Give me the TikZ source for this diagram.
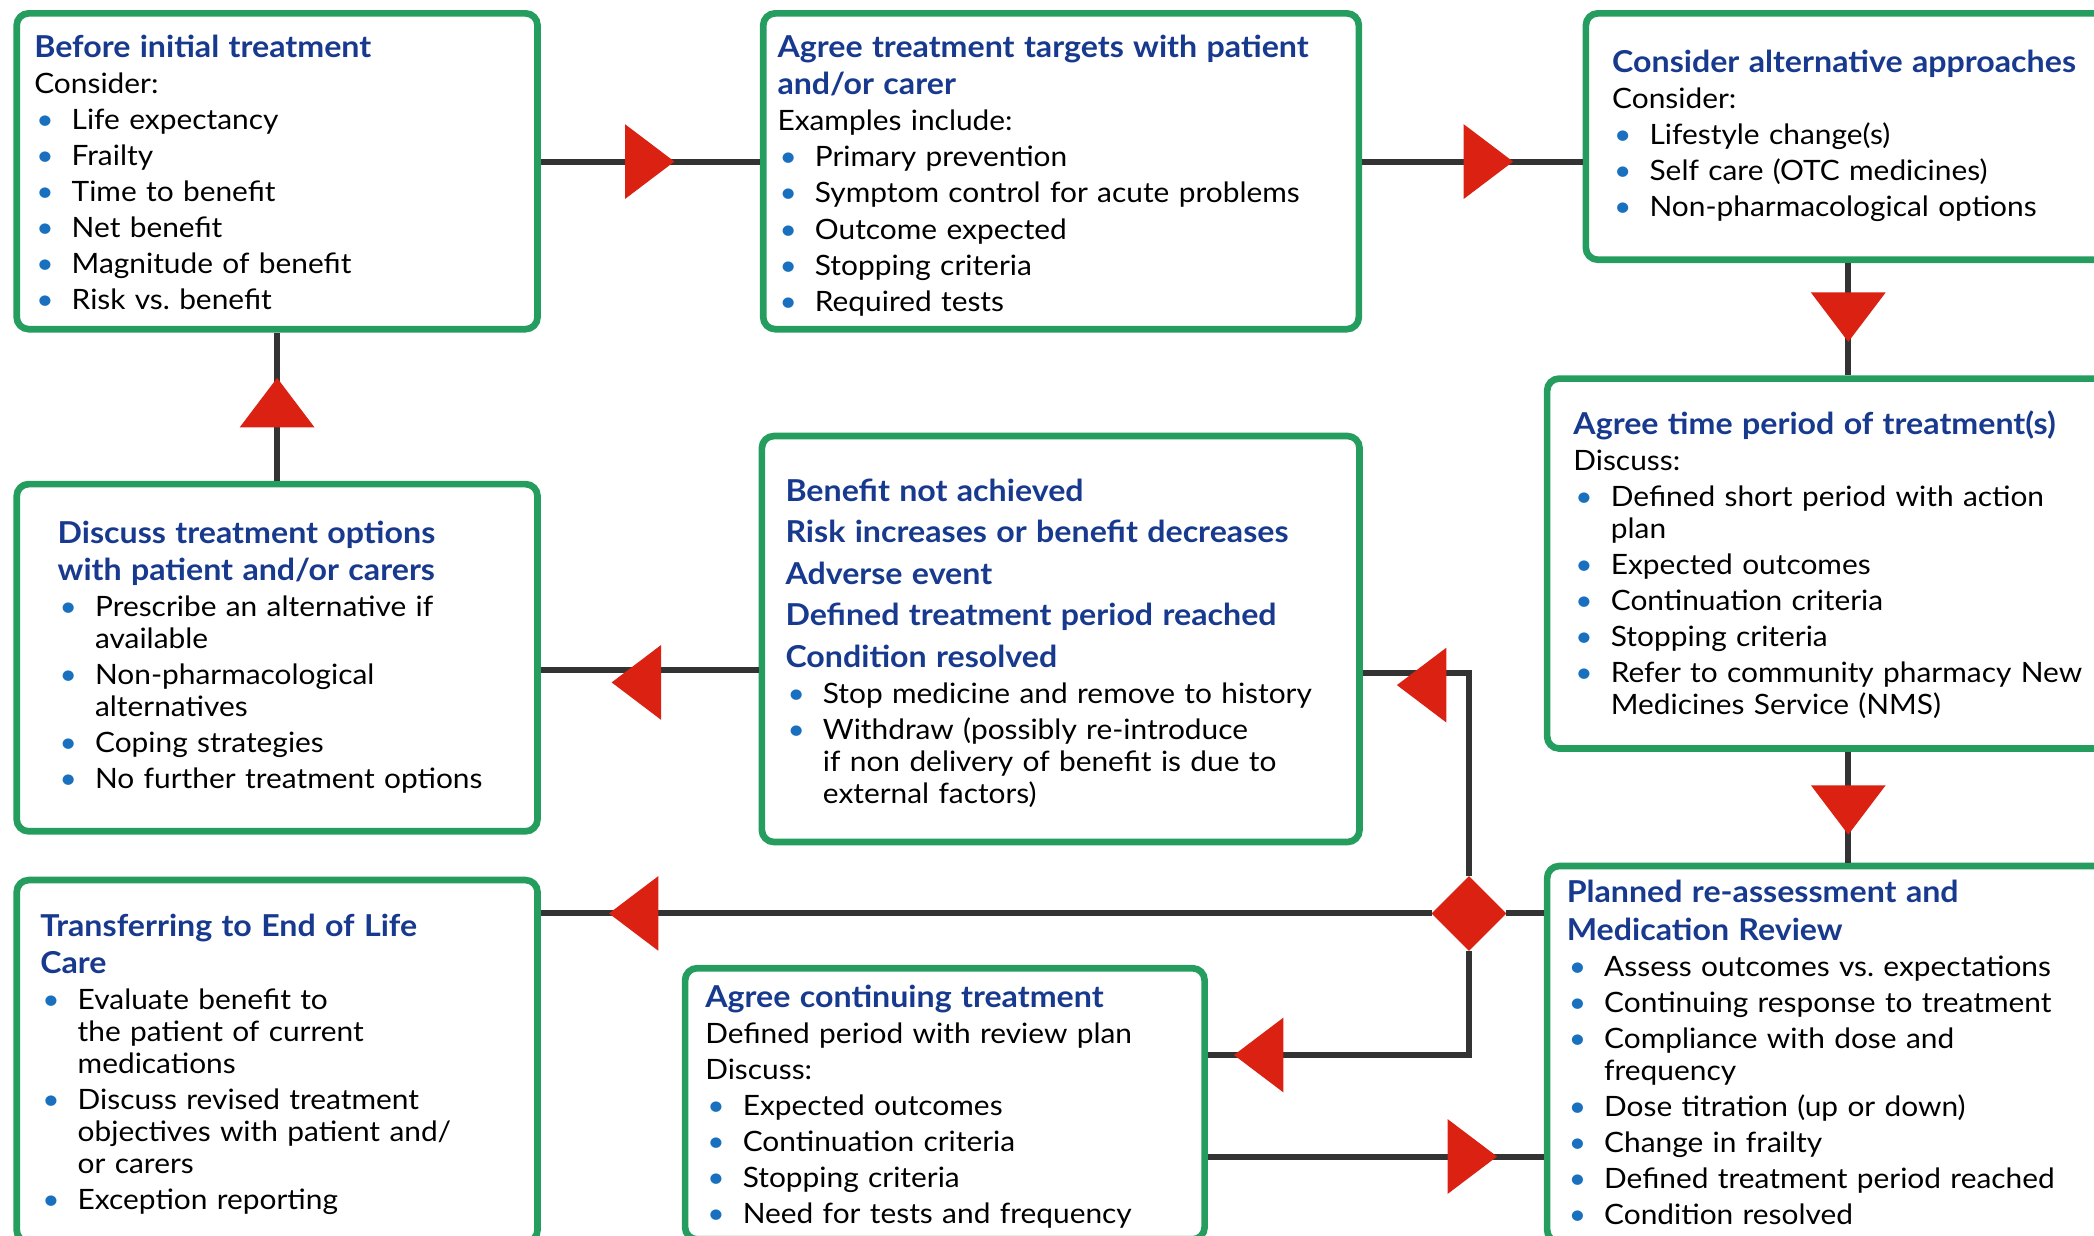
\documentclass[tikz,border=0pt]{standalone}
\usepackage{fontspec}
\setmainfont{Lato}[FakeStretch=1.065]
\usetikzlibrary{shapes.geometric, decorations.markings}

\definecolor{cardgreen}{RGB}{37,157,94}
\definecolor{titleblue}{RGB}{24,58,142}
\definecolor{dotblue}{RGB}{24,112,190}
\definecolor{arrowred}{RGB}{218,33,18}
\definecolor{linegray}{RGB}{51,51,51}

% title lines and bullet items
\newcommand{\ttl}{\fontsize{22.6}{28}\selectfont\bfseries\color{titleblue}}
\newcommand{\bul}[1]{\par\hangindent=28pt\hangafter=1\noindent\makebox[28pt][l]{\hspace{1.5pt}\textcolor{dotblue}{\textbullet}}#1\par}

\tikzset{
  card/.style={draw=cardgreen, line width=5pt, rounded corners=9pt, fill=white,
    anchor=north west, inner sep=0pt, outer sep=2.5pt},
  txt/.style={anchor=base west, inner sep=0pt, align=left, text width=520pt,
    font=\fontsize{21}{24}\selectfont, execute at begin node={\setlength{\parskip}{3pt}}},
  link/.style={draw=linegray, line width=4.5pt},
  tipat/.style={postaction={decorate, decoration={markings,
    mark=at position #1 with {\fill[arrowred] (-37,-28) -- (0,0) -- (-37,28) -- cycle;}}}},
  tipoff/.style={postaction={decorate, decoration={markings,
    mark=at position #1 with {\fill[arrowred] (-37,-37) -- (0,-9) -- (-37,19) -- cycle;}}}},
  decision/.style={diamond, fill=arrowred, minimum width=56pt, minimum height=56pt,
    inner sep=0pt, outer sep=0pt}
}

\begin{document}
\begin{tikzpicture}[x=1pt, y=-1pt]
    \useasboundingbox (0,0) rectangle (1568,925);
    \clip (0,0) rectangle (1568,925);

    % Boxes
    \node[card, minimum width=390pt, minimum height=236.5pt] (before) at (10,7.5) {};
    \node[card, minimum width=446pt, minimum height=236.5pt] (targets) at (569,7.5) {};
    \node[card, minimum width=393pt, minimum height=184.5pt] (alt) at (1185,7.5) {};
    \node[card, minimum width=451pt, minimum height=277pt] (period) at (1156,281) {};
    \node[card, minimum width=451pt, minimum height=281.5pt] (review) at (1156,646) {};
    \node[card, minimum width=390pt, minimum height=260pt] (options) at (10,360) {};
    \node[card, minimum width=447.5pt, minimum height=304pt] (cease) at (568,324) {};
    \node[card, minimum width=389pt, minimum height=203pt] (cont) at (510.5,722.5) {};
    \node[card, minimum width=390pt, minimum height=271pt] (eol) at (10,656.5) {};
    \node[decision] (dec) at (1100,684) {};

    % Box texts
    \node[txt] (before-txt) at ([shift={(15.5,35.5)}]before.north west) {%
        {\ttl Before initial treatment\par}
        Consider:
        \bul{Life expectancy}
        \bul{Frailty}
        \bul{Time to benefit}
        \bul{Net benefit}
        \bul{Magnitude of benefit}
        \bul{Risk vs.\ benefit}};
    \node[txt] (targets-txt) at ([shift={(13,35.5)}]targets.north west) {%
        {\ttl Agree treatment targets with patient\newline and/or carer\par}
        Examples include:
        \bul{Primary prevention}
        \bul{Symptom control for acute problems}
        \bul{Outcome expected}
        \bul{Stopping criteria}
        \bul{Required tests}};
    \node[txt] (alt-txt) at ([shift={(22,46.5)}]alt.north west) {%
        {\ttl Consider alternative approaches\par}
        Consider:
        \bul{Lifestyle change(s)}
        \bul{Self care (OTC medicines)}
        \bul{Non-pharmacological options}};
    \node[txt] (period-txt) at ([shift={(22,44)}]period.north west) {%
        {\ttl Agree time period of treatment(s)\par}
        Discuss:
        \bul{Defined short period with action\newline plan}
        \bul{Expected outcomes}
        \bul{Continuation criteria}
        \bul{Stopping criteria}
        \bul{Refer to community pharmacy New\newline Medicines Service (NMS)}};
    \node[txt] (review-txt) at ([shift={(17,30)}]review.north west) {%
        {\ttl Planned re-assessment and\newline Medication Review\par}
        \bul{Assess outcomes vs.\ expectations}
        \bul{Continuing response to treatment}
        \bul{Compliance with dose and\newline frequency}
        \bul{Dose titration (up or down)}
        \bul{Change in frailty}
        \bul{Defined treatment period reached}
        \bul{Condition resolved}};
    \node[txt] (options-txt) at ([shift={(33,46.7)}]options.north west) {%
        {\ttl Discuss treatment options\newline with patient and/or carers\par}
        \bul{Prescribe an alternative if\newline available}
        \bul{Non-pharmacological\newline alternatives}
        \bul{Coping strategies}
        \bul{No further treatment options}};
    \node[txt] (cease-txt) at ([shift={(20,51.6)}]cease.north west) {%
        {\ttl Benefit not achieved\par
        Risk increases or benefit decreases\par
        Adverse event\par
        Defined treatment period reached\par
        Condition resolved\par}
        \bul{Stop medicine and remove to history}
        \bul{Withdraw (possibly re-introduce\newline if non delivery of benefit is due to\newline external factors)}};
    \node[txt] (cont-txt) at ([shift={(17.5,31.8)}]cont.north west) {%
        {\ttl Agree continuing treatment\par}
        Defined period with review plan\par
        Discuss:
        \bul{Expected outcomes}
        \bul{Continuation criteria}
        \bul{Stopping criteria}
        \bul{Need for tests and frequency}};
    \node[txt] (eol-txt) at ([shift={(20,44.4)}]eol.north west) {%
        {\ttl Transferring to End of Life\newline Care\par}
        \bul{Evaluate benefit to\newline the patient of current\newline medications}
        \bul{Discuss revised treatment\newline objectives with patient and/\newline or carers}
        \bul{Exception reporting}};

    % Connectors
    \draw[link, tipat=100pt] (before.east |- 0,121) -- (targets.west |- 0,121);
    \draw[link, tipat=113pt] (targets.east |- 0,121) -- (alt.west |- 0,121);
    \draw[link, tipat=59pt] (alt.south) -- (period.north);
    \draw[link, tipat=62pt] (period.south) -- (review.north);
    \draw[link, tipat=77pt] (options.north) -- (before.south);
    \draw[link, tipoff=110pt] (cease.west |- 0,502) -- (options.east |- 0,502);
    \draw[link] (review.west |- dec) -- (dec.east);
    \draw[link, tipat=-51pt] (dec.west) -- (eol.east |- dec);
    \draw[link, tipoff=-25.5pt] (dec.north) |- (cease.east |- 0,504);
    \draw[link, tipat=-19.5pt] (dec.south) |- (cont.east |- 0,790);
    \draw[link, tipat=216.5pt] (cont.east |- 0,866) -- (review.west |- 0,866);
\end{tikzpicture}
\end{document}
